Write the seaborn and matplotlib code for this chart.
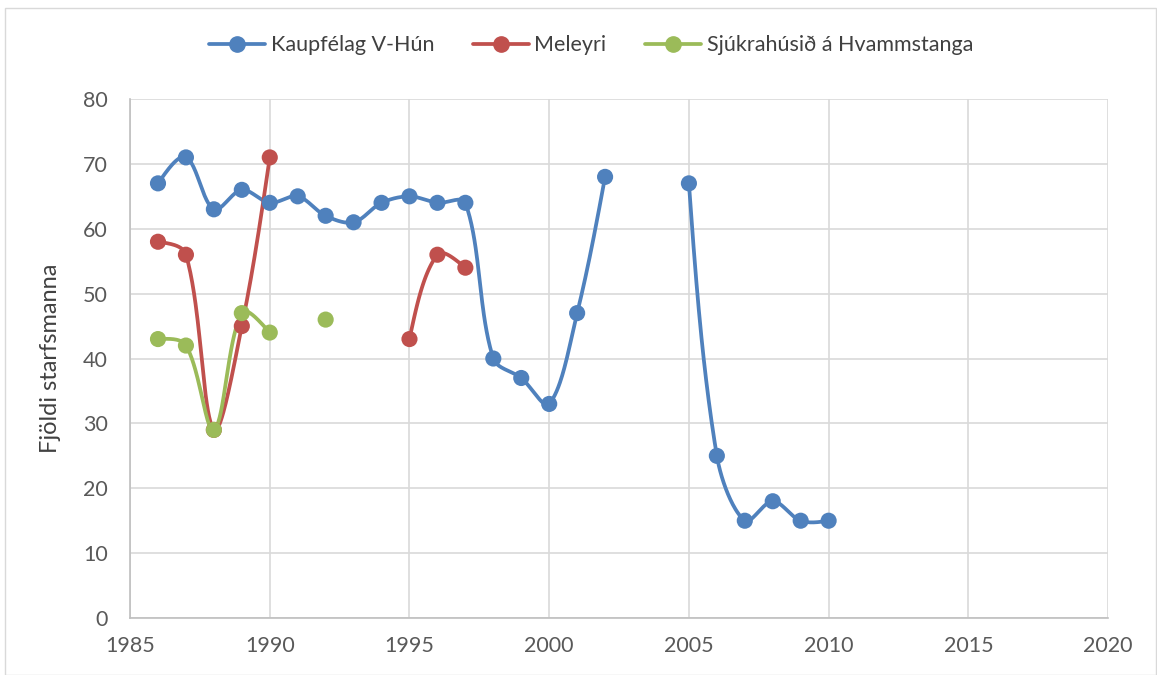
import numpy as np
import pandas as pd
import matplotlib
matplotlib.use("Agg")
import matplotlib.pyplot as plt
import seaborn as sns
from matplotlib.lines import Line2D
from matplotlib.patches import Rectangle

years = list(range(1986, 2011))
kaupfelag = [67, 71, 63, 66, 64, 65, 62, 61, 64, 65, 64, 64, 40, 37, 33, 47, 68,
             None, None, 67, 25, 15, 18, 15, 15]
meleyri = [58, 56, 29, 45, 71, None, None, None, None, 43, 56, 54, None,
           None, None, None, None, None, None, None, None, None, None, None, None]
sjukrahus = [43, 42, 29, 47, 44, None, 46, None, None, None, None, None, None,
             None, None, None, None, None, None, None, None, None, None, None, None]

series_names = ["Kaupfélag V-Hún", "Meleyri", "Sjúkrahúsið á Hvammstanga"]
series_vals = [kaupfelag, meleyri, sjukrahus]
colors = ["#4F81BD", "#C0504D", "#9BBB59"]

x_ticks = [1985, 1990, 1995, 2000, 2005, 2010, 2015, 2020]
y_ticks = [0, 10, 20, 30, 40, 50, 60, 70, 80]


def smooth_segment(ax, xs, ys, n=40):
    """Spreadsheet-style smoothed line: Bezier with length-weighted tangents,
    computed in display space."""
    P = ax.transData.transform(np.column_stack([xs, ys]).astype(float))
    m = len(P)
    if m < 2:
        return np.asarray(xs, float), np.asarray(ys, float)
    cin = P.copy()
    cout = P.copy()
    for i in range(m):
        if i == 0:
            T = P[1] - P[0]
            cout[i] = P[i] + T / 3.0
        elif i == m - 1:
            T = P[i] - P[i - 1]
            cin[i] = P[i] - T / 3.0
        else:
            T = P[i + 1] - P[i - 1]
            d0 = np.linalg.norm(P[i] - P[i - 1])
            d1 = np.linalg.norm(P[i + 1] - P[i])
            s = d0 + d1
            cin[i] = P[i] - T * (d0 / s) / 3.0
            cout[i] = P[i] + T * (d1 / s) / 3.0
    if m > 2:
        cout[0] = P[0] + (cin[1] - P[0]) / 2.0
        cin[-1] = P[-1] + (cout[-2] - P[-1]) / 2.0
    out = []
    t = np.linspace(0, 1, n)[:, None]
    for i in range(m - 1):
        p1, c1, c2, p2 = P[i], cout[i], cin[i + 1], P[i + 1]
        b = ((1 - t) ** 3) * p1 + 3 * ((1 - t) ** 2) * t * c1 + 3 * (1 - t) * t ** 2 * c2 + t ** 3 * p2
        out.append(b if i == 0 else b[1:])
    out = ax.transData.inverted().transform(np.vstack(out))
    return out[:, 0], out[:, 1]


sns.set_theme(style="white")
plt.rcParams["font.family"] = ["Lato", "DejaVu Sans"]

fig = plt.figure(figsize=(11.57, 6.75), dpi=100)
fig.patches.append(Rectangle((0.004, 0.0), 0.995, 0.988, transform=fig.transFigure,
                             fill=False, edgecolor="#D9D9D9", linewidth=1.0))
ax = fig.add_axes([0.1124, 0.0844, 0.8453, 0.7689])
ax.set_xlim(1985, 2020)
ax.set_ylim(0, 80)

for name, vals, col in zip(series_names, series_vals, colors):
    df = pd.DataFrame({"year": years, "value": vals}).astype(float)
    seg_id = df["value"].isna().cumsum()
    valid = df.dropna()
    for _, seg in valid.groupby(seg_id[valid.index]):
        if len(seg) > 1:
            sx, sy = smooth_segment(ax, seg["year"].values, seg["value"].values)
            sns.lineplot(x=sx, y=sy, ax=ax, color=col, linewidth=2.7, sort=False,
                         estimator=None, legend=False)
    sns.scatterplot(x=valid["year"], y=valid["value"], ax=ax, color=col, s=135,
                    edgecolor="none", legend=False, zorder=5)

ax.set_xlim(1985, 2020)
ax.set_ylim(0, 80)
ax.set_xticks(x_ticks)
ax.set_yticks(y_ticks)
ax.set_xlabel("")
ax.set_ylabel("Fjöldi starfsmanna", fontsize=17, color="#404040", labelpad=16)
ax.tick_params(axis="x", labelsize=15.5, colors="#595959", length=0, pad=13)
ax.tick_params(axis="y", labelsize=15.5, colors="#595959", length=0, pad=16)
ax.grid(True, color="#D9D9D9", linewidth=1.2)
ax.set_axisbelow(True)
for side in ["top", "right"]:
    ax.spines[side].set_visible(False)
ax.spines["left"].set_color("#BFBFBF")
ax.spines["bottom"].set_color("#BFBFBF")
ax.spines["left"].set_linewidth(1.2)
ax.spines["bottom"].set_linewidth(1.2)

handles = [Line2D([0], [0], color=c, linewidth=2.7, marker="o", markersize=11)
           for c in colors]
fig.legend(handles, series_names, loc="center", bbox_to_anchor=(0.511, 0.933),
           ncol=3, frameon=False, fontsize=15.5, handlelength=2.6, columnspacing=1.8,
           handletextpad=0.25, labelcolor="#404040")

fig.savefig("out.png", dpi=100)
